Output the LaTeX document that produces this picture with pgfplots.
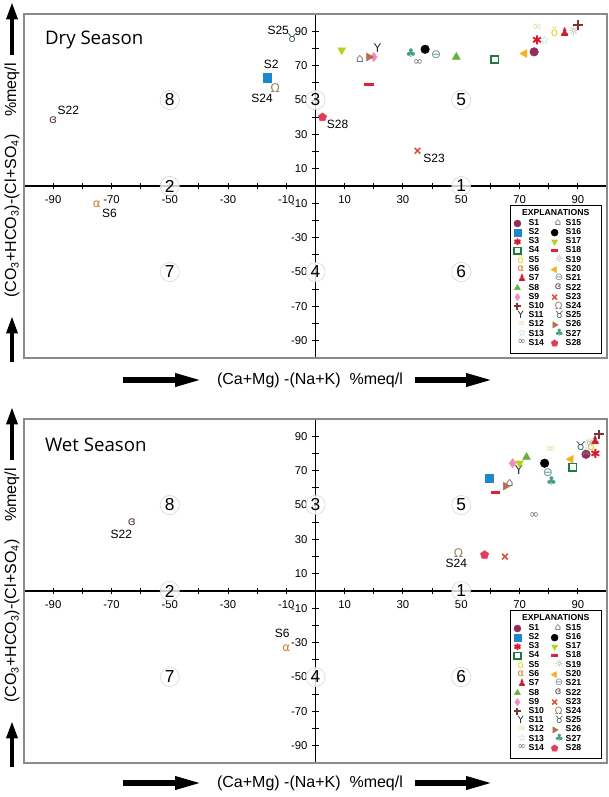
\documentclass[border=0pt]{standalone}
\usepackage{fontspec}
\setmainfont{Liberation Sans}
\newfontfamily\dejavu{DejaVu Sans}
\newfontfamily\opensans{Open Sans}
\usepackage{pgfplots}
\pgfplotsset{compat=1.18}
\usetikzlibrary{arrows.meta,plotmarks}

\definecolor{c1}{HTML}{922C5C}
\definecolor{c2}{HTML}{1C86CF}
\definecolor{c3}{HTML}{D7192D}
\definecolor{c4}{HTML}{1F7A3F}
\definecolor{c5}{HTML}{E0D21A}
\definecolor{c6}{HTML}{D5782A}
\definecolor{c7}{HTML}{CC1F2E}
\definecolor{c8}{HTML}{6AAF3D}
\definecolor{c9}{HTML}{F18CC2}
\definecolor{c10}{HTML}{7B3434}
\definecolor{c11}{HTML}{2A2A2A}
\definecolor{c12}{HTML}{DADA96}
\definecolor{c13}{HTML}{8CCAB4}
\definecolor{c14}{HTML}{666666}
\definecolor{c15}{HTML}{6E6E6E}
\definecolor{c16}{HTML}{000000}
\definecolor{c17}{HTML}{B7D11C}
\definecolor{c18}{HTML}{E11F36}
\definecolor{c19}{HTML}{A89B9B}
\definecolor{c20}{HTML}{F0B323}
\definecolor{c21}{HTML}{5F8F92}
\definecolor{c22}{HTML}{5B3B3B}
\definecolor{c23}{HTML}{D2583F}
\definecolor{c24}{HTML}{9C8262}
\definecolor{c25}{HTML}{2E5B4F}
\definecolor{c26}{HTML}{B4704E}
\definecolor{c27}{HTML}{44A07C}
\definecolor{c28}{HTML}{E43B57}
\definecolor{framegray}{HTML}{8A8A8A}

\tikzset{
  zone/.style={circle, draw=gray!35, fill=white, fill opacity=0.8, text opacity=1,
    inner sep=1pt, font=\fontsize{13}{13}\selectfont},
  lab/.style={font=\fontsize{9}{9}\selectfont},
}

\pgfplotsset{
  txt/.style 2 args={only marks, color=#1, mark=text, text mark={\dejavu #2},
    text mark as node=true,
    text mark style={font=\fontsize{9}{9}\selectfont, inner sep=0pt, text=#1}},
  s1/.style={only marks, mark=*, mark size=3.2pt, color=c1},
  s2/.style={only marks, mark=square*, mark size=3.1pt, color=c2},
  s3/.style={only marks, mark=asterisk, mark size=3.4pt, line width=1.4pt, color=c3},
  s4/.style={only marks, mark=square, mark size=2.8pt, line width=1.3pt, color=c4},
  s5/.style={txt={c5}{ö}},
  s6/.style={txt={c6}{α}},
  s7/.style={txt={c7}{♟}},
  s8/.style={only marks, mark=triangle*, mark size=3.4pt, color=c8},
  s9/.style={only marks, mark=diamond*, mark size=3.4pt, color=c9},
  s10/.style={only marks, mark=+, mark size=3.6pt, line width=1.5pt, color=c10},
  s11/.style={txt={c11}{Y}},
  s12/.style={txt={c12}{∞}},
  s13/.style={txt={c13}{☆}},
  s14/.style={txt={c14}{∞}},
  s15/.style={txt={c15}{⌂}},
  s16/.style={only marks, mark=*, mark size=3.2pt, color=c16},
  s17/.style={only marks, mark=triangle*, mark size=3.4pt, color=c17, mark options={rotate=180}},
  s18/.style={only marks, mark=-, mark size=3.6pt, line width=2.2pt, color=c18},
  s19/.style={txt={c19}{☼}},
  s20/.style={only marks, mark=triangle*, mark size=3.4pt, color=c20, mark options={rotate=90}},
  s21/.style={txt={c21}{⊖}},
  s22/.style={txt={c22}{ɞ}},
  s23/.style={only marks, mark=x, mark size=3pt, line width=1.2pt, color=c23},
  s24/.style={txt={c24}{Ω}},
  s25/.style={txt={c25}{♉}},
  s26/.style={only marks, mark=triangle*, mark size=3.4pt, color=c26, mark options={rotate=-90}},
  s27/.style={txt={c27}{♣}},
  s28/.style={only marks, mark=pentagon*, mark size=3.2pt, color=c28},
  piper/.style={
    scale only axis, width=437.25pt, height=258pt,
    xmin=-100, xmax=100, ymin=-100, ymax=100,
    axis lines=center, axis line style={-, black, line width=0.8pt},
    clip=false,
    xtick={-90,-70,-50,-30,-10,10,30,50,70,90},
    xticklabels={-90,-70,-50,-30,-10,10,30,50,70,90},
    ytick={-90,-70,-50,-30,-10,10,30,50,70,90},
    yticklabels={-90,-70,-50,-30,-10,10,30,50,70,90},
    minor xtick={-80,-60,-40,-20,20,40,60,80},
    minor ytick={-80,-60,-40,-20,20,40,60,80},
    tick align=center, major tick length=5pt, minor tick length=5pt,
    tick style={black, line width=0.7pt},
    tick label style={font=\fontsize{8.5}{8.5}\selectfont},
    xticklabel style={yshift=-1pt},
    legend columns=14, transpose legend,
    legend cell align=left,
    legend image code/.code={\draw[mark repeat=2, mark phase=2, #1]
      plot coordinates {(0cm,0cm) (0.13cm,0cm) (0.26cm,0cm)};},
    legend image post style={mark size=2.6pt,
      text mark style={font=\fontsize{7.5}{7.5}\selectfont, inner sep=0pt}},
    legend style={at={(rel axis cs:0.840,0.405)}, anchor=north west,
      draw=none, fill=none, inner sep=0pt, row sep=0pt,
      nodes={inner sep=0.4pt},
      font=\bfseries\fontsize{6.5}{6.5}\selectfont,
      /tikz/every odd column/.append style={column sep=1pt},
      /tikz/every even column/.append style={column sep=5pt}},
  },
}

\begin{document}
\begin{tikzpicture}
\path[use as bounding box] (0,0) rectangle (456.75pt,-597.75pt);

% ---------------- Dry season ----------------
\begin{axis}[piper, at={(18pt,-10.5pt)}, anchor=north west]
\addplot[s1]  coordinates {(75,78)};
\addplot[s2]  coordinates {(-16.6,63)};
\addplot[s3]  coordinates {(76,85)};
\addplot[s4]  coordinates {(61.5,73.5)};
\addplot[s5]  coordinates {(82,89.5)};
\addplot[s6]  coordinates {(-75,-10.5)};
\addplot[s7]  coordinates {(85.5,89.5)};
\addplot[s8]  coordinates {(48.3,75)};
\addplot[s9]  coordinates {(20,75)};
\addplot[s10] coordinates {(90,93.5)};
\addplot[s11] coordinates {(21.3,80)};
\addplot[s12] coordinates {(76,92)};
\addplot[s13] coordinates {(78.6,85)};
\addplot[s14] coordinates {(35.2,72)};
\addplot[s15] coordinates {(15.2,74)};
\addplot[s16] coordinates {(37.6,79.5)};
\addplot[s17] coordinates {(9,79)};
\addplot[s18] coordinates {(18.3,59)};
\addplot[s19] coordinates {(88.6,90)};
\addplot[s20] coordinates {(71.7,77)};
\addplot[s21] coordinates {(41.4,76.6)};
\addplot[s22] coordinates {(-90,38)};
\addplot[s23] coordinates {(35,20.5)};
\addplot[s24] coordinates {(-13.8,56.7)};
\addplot[s25] coordinates {(-8,86)};
\addplot[s26] coordinates {(18.3,75)};
\addplot[s27] coordinates {(32.8,77)};
\addplot[s28] coordinates {(2.4,40)};
\legend{S1,S2,S3,S4,S5,S6,S7,S8,S9,S10,S11,S12,S13,S14,
        S15,S16,S17,S18,S19,S20,S21,S22,S23,S24,S25,S26,S27,S28}
\draw[framegray, line width=1.2pt] (rel axis cs:0,0) rectangle (rel axis cs:1,1);
\draw[black, line width=0.6pt] (rel axis cs:0.834,0.012) rectangle (rel axis cs:0.99,0.445);
\node[font=\bfseries\fontsize{6.5}{6.5}\selectfont] at (rel axis cs:0.912,0.424) {EXPLANATIONS};
\node[anchor=west, font=\opensans\fontsize{14}{14}\selectfont] at (rel axis cs:0.028,0.924) {Dry Season};
\node[zone] at (axis cs:50,0) {1};
\node[zone] at (axis cs:-50,0) {2};
\node[zone] at (axis cs:0,50) {3};
\node[zone] at (axis cs:0,-50) {4};
\node[zone] at (axis cs:50,50) {5};
\node[zone] at (axis cs:50,-50) {6};
\node[zone] at (axis cs:-50,-50) {7};
\node[zone] at (axis cs:-50,50) {8};
\node[lab] at (axis cs:-12.8,90.6) {S25};
\node[lab] at (axis cs:-15.2,70.8) {S2};
\node[lab] at (axis cs:-18.3,50.9) {S24};
\node[lab] at (axis cs:-84.8,43.9) {S22};
\node[lab] at (axis cs:-70.7,-15.8) {S6};
\node[lab] at (axis cs:7.6,36) {S28};
\node[lab] at (axis cs:40.7,15.8) {S23};
\end{axis}

% ---------------- Wet season ----------------
\begin{axis}[piper, at={(18pt,-314.25pt)}, anchor=north west]
\addplot[s1]  coordinates {(92.8,79.5)};
\addplot[s2]  coordinates {(59.7,65.5)};
\addplot[s3]  coordinates {(96,80)};
\addplot[s4]  coordinates {(88.3,72)};
\addplot[s5]  coordinates {(94.5,84)};
\addplot[s6]  coordinates {(-10,-33)};
\addplot[s7]  coordinates {(96,87.7)};
\addplot[s8]  coordinates {(72.4,77.8)};
\addplot[s9]  coordinates {(67.6,74.3)};
\addplot[s10] coordinates {(97.2,91)};
\addplot[s11] coordinates {(69.7,70)};
\addplot[s12] coordinates {(80.7,82.5)};
\addplot[s13] coordinates {(92.8,81.3)};
\addplot[s14] coordinates {(75,44)};
\addplot[s15] coordinates {(66.6,62.6)};
\addplot[s16] coordinates {(78.6,74.3)};
\addplot[s17] coordinates {(70,74.3)};
\addplot[s18] coordinates {(61.7,57.3)};
\addplot[s19] coordinates {(93.8,86)};
\addplot[s20] coordinates {(87.6,76.6)};
\addplot[s21] coordinates {(79.7,69)};
\addplot[s22] coordinates {(-63,40)};
\addplot[s23] coordinates {(65,20)};
\addplot[s24] coordinates {(49,22)};
\addplot[s25] coordinates {(91,84)};
\addplot[s26] coordinates {(65.2,61)};
\addplot[s27] coordinates {(81,64)};
\addplot[s28] coordinates {(58,21)};
\legend{S1,S2,S3,S4,S5,S6,S7,S8,S9,S10,S11,S12,S13,S14,
        S15,S16,S17,S18,S19,S20,S21,S22,S23,S24,S25,S26,S27,S28}
\draw[framegray, line width=1.2pt] (rel axis cs:0,0) rectangle (rel axis cs:1,1);
\draw[black, line width=0.6pt] (rel axis cs:0.834,0.012) rectangle (rel axis cs:0.99,0.445);
\node[font=\bfseries\fontsize{6.5}{6.5}\selectfont] at (rel axis cs:0.912,0.424) {EXPLANATIONS};
\node[anchor=west, font=\opensans\fontsize{14}{14}\selectfont] at (rel axis cs:0.028,0.924) {Wet Season};
\node[zone] at (axis cs:50,0) {1};
\node[zone] at (axis cs:-50,0) {2};
\node[zone] at (axis cs:0,50) {3};
\node[zone] at (axis cs:0,-50) {4};
\node[zone] at (axis cs:50,50) {5};
\node[zone] at (axis cs:50,-50) {6};
\node[zone] at (axis cs:-50,-50) {7};
\node[zone] at (axis cs:-50,50) {8};
\node[lab] at (axis cs:-66.6,32.7) {S22};
\node[lab] at (axis cs:-11.4,-24.6) {S6};
\node[lab] at (axis cs:48.3,15.8) {S24};
\end{axis}

% ---------------- outer axis titles ----------------
\begin{scope}[x=0.75pt, y=-0.75pt]
  \foreach \yy in {380,783} {
    \draw[line width=4.5pt, -{Triangle[length=21pt, width=9pt]}] (123,\yy) -- (203,\yy);
    \node[font=\fontsize{12}{12}\selectfont] at (310,\yy) {(Ca+Mg) -(Na+K)\ \ \%meq/l};
    \draw[line width=4.5pt, -{Triangle[length=21pt, width=9pt]}] (415,\yy) -- (494,\yy);
  }
  \foreach \dy in {0,405} {
    \draw[line width=3pt, -{Triangle[length=13pt, width=8pt]}] (12,55+\dy) -- (12,2+\dy);
    \node[rotate=90, font=\fontsize{12}{12}\selectfont] at (12,90+\dy) {\%meq/l};
    \node[rotate=90, font=\fontsize{12}{12}\selectfont] at (12,216+\dy)
      {(CO\textsubscript{3}+HCO\textsubscript{3})-(Cl+SO\textsubscript{4})};
    \draw[line width=3pt, -{Triangle[length=13pt, width=8pt]}] (12,362+\dy) -- (12,316+\dy);
  }
\end{scope}
\end{tikzpicture}
\end{document}
